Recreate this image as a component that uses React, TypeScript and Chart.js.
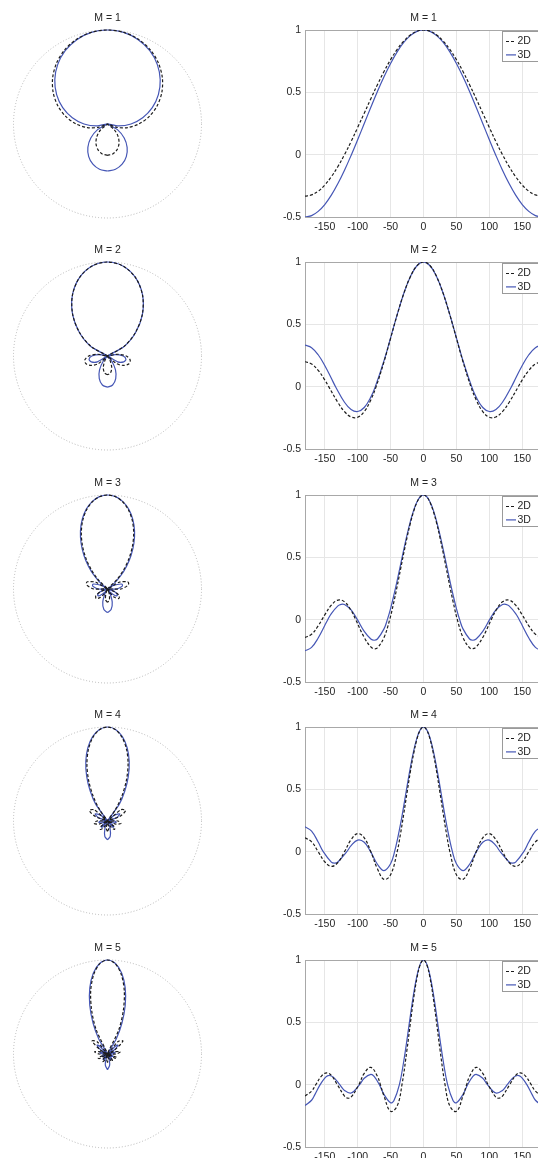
import React, { useEffect, useRef } from "react";
import { Chart, registerables } from "chart.js";

Chart.register(...registerables);

const TITLES = ["M = 1", "M = 2", "M = 3", "M = 4", "M = 5"];
const SERIES_LABELS = ["2D", "3D"];
const X_TICKS = [-150, -100, -50, 0, 50, 100, 150];
const Y_TICKS = [-0.5, 0, 0.5, 1];

// M = 1
const ANGLES_M1_2D = [-180, -170, -160, -150, -140, -130, -120, -110, -100, -90, -80, -70, -60, -50, -40, -30, -20, -10, 0, 10, 20, 30, 40, 50, 60, 70, 80, 90, 100, 110, 120, 130, 140, 150, 160, 170, 180];
const VALUES_M1_2D = [-0.333, -0.323, -0.293, -0.244, -0.177, -0.095, 0, 0.105, 0.218, 0.333, 0.449, 0.561, 0.667, 0.762, 0.844, 0.911, 0.96, 0.99, 1, 0.99, 0.96, 0.911, 0.844, 0.762, 0.667, 0.561, 0.449, 0.333, 0.218, 0.105, 0, -0.095, -0.177, -0.244, -0.293, -0.323, -0.333];
const ANGLES_M1_3D = [-180, -170, -160, -150, -140, -130, -120, -109.5, -100, -90, -80, -70, -60, -50, -40, -30, -20, -10, 0, 10, 20, 30, 40, 50, 60, 70, 80, 90, 100, 109.5, 120, 130, 140, 150, 160, 170, 180];
const VALUES_M1_3D = [-0.5, -0.489, -0.455, -0.4, -0.325, -0.232, -0.125, 0, 0.12, 0.25, 0.38, 0.507, 0.625, 0.732, 0.825, 0.9, 0.955, 0.989, 1, 0.989, 0.955, 0.9, 0.825, 0.732, 0.625, 0.507, 0.38, 0.25, 0.12, 0, -0.125, -0.232, -0.325, -0.4, -0.455, -0.489, -0.5];

// M = 2
const ANGLES_M2_2D = [-180, -170, -160, -150, -144, -130, -120, -110, -100, -90, -80, -72, -60, -50, -40, -30, -20, -10, 0, 10, 20, 30, 40, 50, 60, 72, 80, 90, 100, 110, 120, 130, 144, 150, 160, 170, 180];
const VALUES_M2_2D = [0.2, 0.182, 0.131, 0.054, 0, -0.127, -0.2, -0.243, -0.245, -0.2, -0.106, 0, 0.2, 0.388, 0.576, 0.746, 0.882, 0.97, 1, 0.97, 0.882, 0.746, 0.576, 0.388, 0.2, 0, -0.106, -0.2, -0.245, -0.243, -0.2, -0.127, 0, 0.054, 0.131, 0.182, 0.2];
const ANGLES_M2_3D = [-180, -170, -160, -150, -140, -133.6, -120, -110, -100, -90, -80, -73.2, -60, -50, -40, -30, -20, -10, 0, 10, 20, 30, 40, 50, 60, 73.2, 80, 90, 100, 110, 120, 133.6, 140, 150, 160, 170, 180];
const VALUES_M2_3D = [0.333, 0.313, 0.256, 0.17, 0.067, 0, -0.125, -0.183, -0.199, -0.167, -0.084, 0, 0.208, 0.392, 0.578, 0.747, 0.882, 0.97, 1, 0.97, 0.882, 0.747, 0.578, 0.392, 0.208, 0, -0.084, -0.167, -0.199, -0.183, -0.125, 0, 0.067, 0.17, 0.256, 0.313, 0.333];

// M = 3
const ANGLES_M3_2D = [-180, -170, -160, -154.3, -150, -140, -130, -120, -110, -102.9, -90, -80, -75, -70, -60, -51.4, -45, -40, -35, -30, -25, -20, -15, -10, -5, 0, 5, 10, 15, 20, 25, 30, 35, 40, 45, 51.4, 60, 70, 75, 80, 90, 102.9, 110, 120, 130, 140, 150, 154.3, 160, 170, 180];
const VALUES_M3_2D = [-0.143, -0.117, -0.05, 0, 0.038, 0.116, 0.157, 0.143, 0.074, 0, -0.143, -0.219, -0.233, -0.226, -0.143, 0, 0.143, 0.268, 0.401, 0.533, 0.659, 0.773, 0.868, 0.94, 0.985, 1, 0.985, 0.94, 0.868, 0.773, 0.659, 0.533, 0.401, 0.268, 0.143, 0, -0.143, -0.226, -0.233, -0.219, -0.143, 0, 0.074, 0.143, 0.157, 0.116, 0.038, 0, -0.05, -0.117, -0.143];
const ANGLES_M3_3D = [-180, -170, -160, -150, -145.4, -140, -130, -125, -120, -110, -100.4, -90, -80, -75, -70, -60, -54.9, -50, -45, -40, -35, -30, -25, -20, -15, -10, -5, 0, 5, 10, 15, 20, 25, 30, 35, 40, 45, 50, 54.9, 60, 70, 75, 80, 90, 100.4, 110, 120, 125, 130, 140, 145.4, 150, 160, 170, 180];
const VALUES_M3_3D = [-0.25, -0.222, -0.147, -0.047, 0, 0.049, 0.111, 0.123, 0.121, 0.078, 0, -0.094, -0.155, -0.165, -0.155, -0.074, 0, 0.089, 0.196, 0.314, 0.438, 0.562, 0.681, 0.787, 0.877, 0.944, 0.986, 1, 0.986, 0.944, 0.877, 0.787, 0.681, 0.562, 0.438, 0.314, 0.196, 0.089, 0, -0.074, -0.155, -0.165, -0.155, -0.094, 0, 0.078, 0.121, 0.123, 0.111, 0.049, 0, -0.047, -0.147, -0.222, -0.25];

// M = 4
const ANGLES_M4_2D = [-180, -170, -160, -150, -140, -130, -120, -110, -100, -90, -80, -70, -60, -50, -40, -35, -30, -25, -20, -15, -10, -5, 0, 5, 10, 15, 20, 25, 30, 35, 40, 50, 60, 70, 80, 90, 100, 110, 120, 130, 140, 150, 160, 170, 180];
const VALUES_M4_2D = [0.111, 0.079, 0, -0.081, -0.118, -0.087, 0, 0.096, 0.145, 0.111, 0, -0.137, -0.222, -0.186, 0, 0.141, 0.304, 0.474, 0.64, 0.786, 0.901, 0.975, 1, 0.975, 0.901, 0.786, 0.64, 0.474, 0.304, 0.141, 0, -0.186, -0.222, -0.137, 0, 0.111, 0.145, 0.096, 0, -0.087, -0.118, -0.081, 0, 0.079, 0.111];
const ANGLES_M4_3D = [-180, -170, -160, -152.3, -140, -135, -130, -116.5, -110, -100, -90, -80.4, -70, -60, -50, -43.9, -35, -30, -25, -20, -15, -10, -5, 0, 5, 10, 15, 20, 25, 30, 35, 43.9, 50, 60, 70, 80.4, 90, 100, 110, 116.5, 130, 135, 140, 152.3, 160, 170, 180];
const VALUES_M4_3D = [0.2, 0.165, 0.077, 0, -0.084, -0.092, -0.083, 0, 0.048, 0.093, 0.075, 0, -0.101, -0.152, -0.097, 0, 0.219, 0.368, 0.524, 0.675, 0.807, 0.911, 0.977, 1, 0.977, 0.911, 0.807, 0.675, 0.524, 0.368, 0.219, 0, -0.097, -0.152, -0.101, 0, 0.075, 0.093, 0.048, 0, -0.083, -0.092, -0.084, 0, 0.077, 0.165, 0.2];

// M = 5
const ANGLES_M5_2D = [-180, -170, -163.6, -155, -147, -140, -130.9, -120, -115, -110, -98.2, -90, -80, -70, -65.5, -60, -50, -40, -32.7, -25, -20, -15, -10, -5, 0, 5, 10, 15, 20, 25, 32.7, 40, 50, 60, 65.5, 70, 80, 90, 98.2, 110, 115, 120, 130.9, 140, 147, 155, 163.6, 170, 180];
const VALUES_M5_2D = [-0.091, -0.052, 0, 0.069, 0.095, 0.074, 0, -0.091, -0.108, -0.101, 0, 0.091, 0.139, 0.067, 0, -0.091, -0.214, -0.171, 0, 0.284, 0.492, 0.691, 0.854, 0.962, 1, 0.962, 0.854, 0.691, 0.492, 0.284, 0, -0.171, -0.214, -0.091, 0, 0.067, 0.139, 0.091, 0, -0.101, -0.108, -0.091, 0, 0.074, 0.095, 0.069, 0, -0.052, -0.091];
const ANGLES_M5_3D = [-180, -170, -165, -157, -150, -145, -140, -135, -127.2, -120, -110, -97.1, -90, -80, -75, -67, -60, -50, -45, -36.6, -30, -25, -20, -15, -10, -5, 0, 5, 10, 15, 20, 25, 30, 36.6, 45, 50, 60, 67, 75, 80, 90, 97.1, 110, 120, 127.2, 135, 140, 145, 150, 157, 165, 170, 180];
const VALUES_M5_3D = [-0.167, -0.125, -0.08, 0, 0.053, 0.072, 0.07, 0.051, 0, -0.046, -0.067, 0, 0.052, 0.083, 0.067, 0, -0.078, -0.145, -0.129, 0, 0.188, 0.364, 0.552, 0.728, 0.872, 0.967, 1, 0.967, 0.872, 0.728, 0.552, 0.364, 0.188, 0, -0.129, -0.145, -0.078, 0, 0.067, 0.083, 0.052, 0, -0.067, -0.046, 0, 0.051, 0.07, 0.072, 0.053, 0, -0.08, -0.125, -0.167];

type Row = { title: string; angles2D: number[]; values2D: number[]; angles3D: number[]; values3D: number[] };

const ROWS: Row[] = [
  { title: TITLES[0], angles2D: ANGLES_M1_2D, values2D: VALUES_M1_2D, angles3D: ANGLES_M1_3D, values3D: VALUES_M1_3D },
  { title: TITLES[1], angles2D: ANGLES_M2_2D, values2D: VALUES_M2_2D, angles3D: ANGLES_M2_3D, values3D: VALUES_M2_3D },
  { title: TITLES[2], angles2D: ANGLES_M3_2D, values2D: VALUES_M3_2D, angles3D: ANGLES_M3_3D, values3D: VALUES_M3_3D },
  { title: TITLES[3], angles2D: ANGLES_M4_2D, values2D: VALUES_M4_2D, angles3D: ANGLES_M4_3D, values3D: VALUES_M4_3D },
  { title: TITLES[4], angles2D: ANGLES_M5_2D, values2D: VALUES_M5_2D, angles3D: ANGLES_M5_3D, values3D: VALUES_M5_3D },
];

// ---- styling / layout ----
const FONT_FAMILY = '"Liberation Sans", Arial, Helvetica, sans-serif';
const TEXT_COLOR = "#262626";
const COLOR_2D = "#1c1c1c";
const COLOR_3D = "#4556b5";
const DASH_2D = [3, 2];
const ROW_TOPS = [30, 262, 495, 727, 960];
const CANVAS_H = 231;
const POLAR_W = 215;
const LINE_W = 272;

const polarPoints = (angles: number[], values: number[]) =>
  angles.map((a, i) => {
    const r = Math.abs(values[i]);
    const t = (a * Math.PI) / 180;
    return { x: r * Math.sin(t), y: r * Math.cos(t) };
  });

const linePoints = (angles: number[], values: number[]) => angles.map((a, i) => ({ x: a, y: values[i] }));

const polarFrame = {
  id: "polarFrame",
  beforeDatasetsDraw(chart: any) {
    const { ctx, scales } = chart;
    const cx = scales.x.getPixelForValue(0);
    const cy = scales.y.getPixelForValue(0);
    const r = scales.x.getPixelForValue(1) - cx;
    ctx.save();
    ctx.beginPath();
    ctx.arc(cx, cy, r, 0, Math.PI * 2);
    ctx.setLineDash([1, 2]);
    ctx.strokeStyle = "#b4b4b4";
    ctx.lineWidth = 1;
    ctx.stroke();
    ctx.restore();
  },
};

const insetLegend = {
  id: "insetLegend",
  afterDraw(chart: any) {
    const { ctx, chartArea } = chart;
    const w = 40;
    const h = 31;
    const left = Math.round(chartArea.right - w);
    const top = Math.round(chartArea.top + 1);
    ctx.save();
    ctx.fillStyle = "#ffffff";
    ctx.fillRect(left, top, w, h);
    ctx.strokeStyle = "#9a9a9a";
    ctx.lineWidth = 1;
    ctx.strokeRect(left + 0.5, top + 0.5, w - 1, h - 1);
    chart.data.datasets.forEach((ds: any, i: number) => {
      const y = top + 10.5 + i * 13.4;
      ctx.beginPath();
      ctx.setLineDash(ds.borderDash || []);
      ctx.strokeStyle = ds.borderColor;
      ctx.lineWidth = ds.borderWidth;
      ctx.moveTo(left + 4, y);
      ctx.lineTo(left + 14, y);
      ctx.stroke();
      ctx.setLineDash([]);
      ctx.fillStyle = TEXT_COLOR;
      ctx.font = "10.5px " + FONT_FAMILY;
      ctx.textBaseline = "middle";
      ctx.textAlign = "left";
      ctx.fillText(ds.label, left + 15.5, y);
    });
    ctx.restore();
  },
};

const titleOptions = (text: string, fullSize: boolean) => ({
  display: true,
  text,
  fullSize,
  color: TEXT_COLOR,
  font: { size: 10.5, weight: "normal" as const, family: FONT_FAMILY },
  padding: { top: 6, bottom: 5.4 },
});

const plainLabel = (v: any) => String(v);

const polarConfig = (row: Row): any => ({
  type: "scatter",
  data: {
    datasets: [
      {
        label: SERIES_LABELS[0],
        data: polarPoints(row.angles2D, row.values2D),
        showLine: true,
        borderColor: COLOR_2D,
        borderDash: DASH_2D,
        borderWidth: 1.2,
        pointRadius: 0,
        pointHoverRadius: 0,
        tension: 0.3,
        fill: false,
        clip: false,
      },
      {
        label: SERIES_LABELS[1],
        data: polarPoints(row.angles3D, row.values3D),
        showLine: true,
        borderColor: COLOR_3D,
        borderWidth: 1.2,
        pointRadius: 0,
        pointHoverRadius: 0,
        tension: 0.3,
        fill: false,
        clip: false,
      },
    ],
  },
  options: {
    responsive: false,
    animation: false,
    events: [],
    layout: { padding: { left: 13.5, right: 13.5, top: 0, bottom: 19 } },
    scales: {
      x: { type: "linear", min: -1, max: 1, display: false },
      y: { type: "linear", min: -1, max: 1, display: false },
    },
    plugins: {
      legend: { display: false },
      tooltip: { enabled: false },
      title: titleOptions(row.title, true),
    },
  },
  plugins: [polarFrame],
});

const lineConfig = (row: Row): any => ({
  type: "line",
  data: {
    datasets: [
      {
        label: SERIES_LABELS[0],
        data: linePoints(row.angles2D, row.values2D),
        borderColor: COLOR_2D,
        borderDash: DASH_2D,
        borderWidth: 1.2,
        pointRadius: 0,
        pointHoverRadius: 0,
        tension: 0.4,
        fill: false,
      },
      {
        label: SERIES_LABELS[1],
        data: linePoints(row.angles3D, row.values3D),
        borderColor: COLOR_3D,
        borderWidth: 1.2,
        pointRadius: 0,
        pointHoverRadius: 0,
        tension: 0.4,
        fill: false,
      },
    ],
  },
  options: {
    responsive: false,
    animation: false,
    events: [],
    layout: { padding: 0 },
    scales: {
      x: {
        type: "linear",
        min: -180,
        max: 180,
        afterBuildTicks: (s: any) => {
          s.ticks = X_TICKS.map((v) => ({ value: v }));
        },
        afterFit: (s: any) => {
          s.height = 20;
        },
        grid: { color: "#e6e6e6", drawTicks: false },
        border: { color: "#a8a8a8" },
        ticks: {
          padding: 4,
          color: TEXT_COLOR,
          font: { size: 10.5, family: FONT_FAMILY },
          maxRotation: 0,
          autoSkip: false,
          callback: plainLabel,
        },
      },
      y: {
        type: "linear",
        min: -0.5,
        max: 1,
        afterBuildTicks: (s: any) => {
          s.ticks = Y_TICKS.map((v) => ({ value: v }));
        },
        afterFit: (s: any) => {
          s.width = 35;
        },
        grid: {
          color: (c: any) => (c.tick && c.tick.value === 1 ? "#a8a8a8" : "#e6e6e6"),
          drawTicks: false,
        },
        border: { color: "#a8a8a8" },
        ticks: { padding: 4, color: TEXT_COLOR, font: { size: 10.5, family: FONT_FAMILY }, callback: plainLabel },
      },
    },
    plugins: {
      legend: { display: false },
      tooltip: { enabled: false },
      title: titleOptions(row.title, false),
    },
  },
  plugins: [insetLegend],
});

export default function App() {
  const polarRefs = useRef<(HTMLCanvasElement | null)[]>([]);
  const lineRefs = useRef<(HTMLCanvasElement | null)[]>([]);

  useEffect(() => {
    Chart.defaults.font.family = FONT_FAMILY;
    const charts: Chart[] = [];
    ROWS.forEach((row, i) => {
      const pc = polarRefs.current[i];
      const lc = lineRefs.current[i];
      if (pc) charts.push(new Chart(pc, polarConfig(row)));
      if (lc) charts.push(new Chart(lc, lineConfig(row)));
    });
    return () => {
      charts.forEach((c) => c.destroy());
    };
  }, []);

  return (
    <div
      style={{
        position: "fixed",
        left: 0,
        top: 0,
        width: 538,
        height: 1158,
        overflow: "hidden",
        background: "#ffffff",
      }}
    >
      {ROWS.map((row, i) => (
        <React.Fragment key={row.title}>
          <canvas
            ref={(el) => {
              polarRefs.current[i] = el;
            }}
            width={POLAR_W}
            height={CANVAS_H}
            style={{ position: "absolute", left: 0, top: ROW_TOPS[i] - 24, width: POLAR_W, height: CANVAS_H }}
          />
          <canvas
            ref={(el) => {
              lineRefs.current[i] = el;
            }}
            width={LINE_W}
            height={CANVAS_H}
            style={{ position: "absolute", left: 270, top: ROW_TOPS[i] - 24, width: LINE_W, height: CANVAS_H }}
          />
        </React.Fragment>
      ))}
    </div>
  );
}
